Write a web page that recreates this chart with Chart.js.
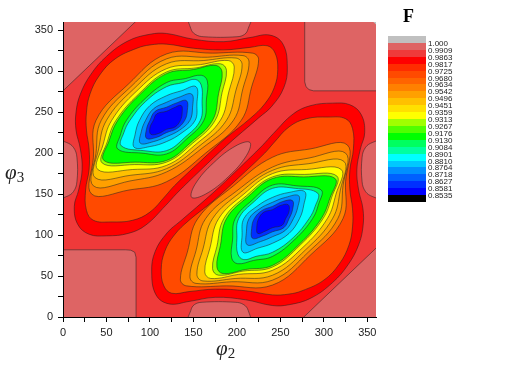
<!DOCTYPE html>
<html lang="en">
<head>
<meta charset="UTF-8">
<title>F(φ2, φ3) contour map</title>
<script src="https://cdn.jsdelivr.net/npm/chart.js@4.4.0/dist/chart.umd.min.js"></script>
<style>
  body { margin: 0; background: #fff; }
  #wrap { position: relative; width: 507px; height: 368px; overflow: hidden; }
  #plot { position: absolute; left: 0; top: 0; }
  .axtitle { position: absolute; font-family: "Liberation Serif", "DejaVu Serif", serif; color: #222; white-space: nowrap; }
  .axtitle i { font-size: 21px; }
  .axtitle sub { font-size: 15px; vertical-align: -3px; }
  .swatch { position: absolute; left: 388px; width: 38px; }
  .cbl { position: absolute; left: 428px; font: 8px "Liberation Sans", Arial, sans-serif; line-height: 10px; color: #222; }
  #ftitle { position: absolute; left: 403px; top: 6px; font: bold 18px "Liberation Serif", serif; color: #000; }
</style>
</head>
<body>
<div id="wrap">
  <canvas id="plot" width="507" height="368"></canvas>
  <div class="axtitle" style="left:216px; top:336px;"><i>φ</i><sub>2</sub></div>
  <div class="axtitle" style="left:5px; top:160px;"><i>φ</i><sub>3</sub></div>
  <div id="ftitle">F</div>
</div>

<script>
// colour scale (top to bottom) and the level labels between swatches
const bandColors = ['#c0c0c0', '#de6464', '#ef3a3a', '#ff0000', '#ff2c00', '#ff4a00', '#ff6400', '#ff8000',
                    '#ffa000', '#ffc000', '#ffe000', '#ffff00', '#a0ff00', '#50ff00', '#00ff00', '#00ff60',
                    '#00ffa0', '#00ffff', '#00c8ff', '#0090ff', '#0060ff', '#0030ff', '#0000ff', '#000000'];
const bandLabels = ['1.000', '0.9909', '0.9863', '0.9817', '0.9725', '0.9680', '0.9634', '0.9542', '0.9496',
                    '0.9451', '0.9359', '0.9313', '0.9267', '0.9176', '0.9130', '0.9084', '0.8901', '0.8810',
                    '0.8764', '0.8718', '0.8627', '0.8581', '0.8535'];

// high-F patches (band 1), outlines in (phi2, phi3) degrees
const tlCorner = [[-5,270],[0,276],[83,360],[88,365],[-5,365]];
const brCorner = [[365,90],[360,84],[277,0],[272,-5],[365,-5]];
const blSquare = [[-5,-5],[84,-5],[84,73],[82.5,79],[78,81.5],[72,82],[-5,82]];
const trSquare = [[365,365],[278,365],[278,287],[279.5,281],[283,277.5],[288,276],[365,276]];
const topBump = [[146,365],[147,352],[152,345],[162,342],[200,342],[209,345],[213,352],[215,365]];
const bottomBump = [[214,-5],[213,8],[208,15],[198,18],[160,18],[151,15],[147,8],[145,-5]];
const leftBump = [[-5,146],[4,147],[12,153],[16,165],[16,195],[12,207],[4,213],[-5,214]];
const rightBump = [[365,214],[356,213],[348,207],[344,195],[344,165],[348,153],[356,147],[365,146]];
const midIsland = [[215,213],[199,209],[173,188],[152,162],[148,146],[164,150],[190,171],[211,197]];
const peakCorner = [[352,365],[365,365],[365,352]];

// upper-left valley, outer to inner
const ulC1 = [[119,346],[150,339],[185,336],[215,341],[238,344],[253,333],[258,305],[254,280],[240,257],[225,243],[188,209],[158,179],[131,151],[118,136],[95,112],[75,102],[50,99],[30,101],[17,113],[13,135],[18,155],[22,180],[20,205],[15,228],[15,250],[20,272],[32,296],[50,318],[75,337],[100,345]];
const ulC2 = [[119,333],[150,328],[185,326],[215,329],[235,331],[244,322],[247,302],[243,280],[232,260],[215,242],[188,219],[158,190],[128,160],[118,148],[100,128],[80,118],[55,116],[35,118],[27,130],[26,155],[30,180],[30,205],[27,228],[27,250],[31,272],[42,295],[60,315],[85,328],[100,332]];
const ulC3 = [[119,321],[172,322],[218,322],[225,314],[217,281],[205,240],[164,200],[119,165],[76,155],[33,150],[35,195],[38,240],[75,284]];
const ulC4 = [[119,315],[166,317],[207,319],[214,311],[207,279],[196,240],[160,206],[119,177],[77,166],[35,160],[38,200],[44,240],[78,281]];
const ulC5 = [[119,309],[162,313],[199,316],[206,308],[199,277],[188,240],[156,208],[119,181],[78,173],[37,170],[41,205],[50,240],[81,278]];
const ulC6 = [[119,303],[158,308],[190,313],[197,305],[191,276],[181,240],[152,210],[119,185],[80,180],[40,180],[46,210],[56,240],[84,275]];
const ulC7 = [[119,299],[153,304],[181,309],[188,301],[183,274],[175,240],[149,212],[119,189],[82,186],[45,188],[51,214],[61,240],[87,272]];
const ulC8 = [[119,297],[150,302],[176,307],[183,299],[179,273],[172,240],[147,213],[119,191],[83,189],[47,191],[53,215],[63,240],[88,271]];
const ulC9 = [[119,286],[141,291],[159,295],[166,288],[165,266],[162,240],[142,217],[119,199],[91,200],[63,205],[66,222],[73,240],[93,265]];
const ulC10 = [[119,281],[138,286],[152,290],[159,283],[160,264],[158,240],[140,219],[119,203],[93,203],[67,209],[70,225],[77,240],[95,263]];
const ulC11 = [[119,270],[136,276],[153,281],[154,260],[152,240],[137,225],[119,214],[100,208],[82,207],[83,223],[88,240],[100,258]];
const ulC12 = [[119,262],[133,268],[148,272],[149,256],[146,240],[134,228],[119,220],[104,214],[89,212],[90,226],[95,240],[104,254]];
const ulC13 = [[119,256],[130,261],[142,264],[143,252],[140,240],[131,230],[119,225],[107,219],[96,218],[96,229],[100,240],[106,251]];
const ulC14 = [[119,251],[127,255],[136,258],[137,249],[135,240],[129,232],[119,229],[110,224],[101,223],[100,231],[104,240],[108,248]];

// lower-right valley, outer to inner
const lrC1 = [[241,14],[210,21],[175,24],[145,19],[122,16],[107,27],[102,55],[106,80],[120,103],[135,117],[172,151],[202,181],[229,209],[242,224],[265,248],[285,258],[310,261],[330,259],[343,247],[347,225],[342,205],[338,180],[340,155],[345,132],[345,110],[340,88],[328,64],[310,42],[285,23],[260,15]];
const lrC2 = [[241,27],[210,32],[175,34],[145,31],[125,29],[116,38],[113,58],[117,80],[128,100],[145,118],[172,141],[202,170],[232,200],[242,212],[260,232],[280,242],[305,244],[325,242],[333,230],[334,205],[330,180],[330,155],[333,132],[333,110],[329,88],[318,65],[300,45],[275,32],[260,28]];
const lrC3 = [[241,39],[188,38],[142,38],[135,46],[143,79],[155,120],[196,160],[241,195],[284,205],[327,210],[325,165],[322,120],[285,76]];
const lrC4 = [[241,45],[194,43],[153,41],[146,49],[153,81],[164,120],[200,154],[241,183],[283,194],[325,200],[322,160],[316,120],[282,79]];
const lrC5 = [[241,51],[198,47],[161,44],[154,52],[161,83],[172,120],[204,152],[241,179],[282,187],[323,190],[319,155],[310,120],[279,82]];
const lrC6 = [[241,57],[202,52],[170,47],[163,55],[169,84],[179,120],[208,150],[241,175],[280,180],[320,180],[314,150],[304,120],[276,85]];
const lrC7 = [[241,61],[207,56],[179,51],[172,59],[177,86],[185,120],[211,148],[241,171],[278,174],[315,172],[309,146],[299,120],[273,88]];
const lrC8 = [[241,63],[210,58],[184,53],[177,61],[181,87],[188,120],[213,147],[241,169],[277,171],[313,169],[307,145],[297,120],[272,89]];
const lrC9 = [[241,74],[219,69],[201,65],[194,72],[195,94],[198,120],[218,143],[241,161],[269,160],[297,155],[294,138],[287,120],[267,95]];
const lrC10 = [[241,79],[222,74],[208,70],[201,77],[200,96],[202,120],[220,141],[241,157],[267,157],[293,151],[290,135],[283,120],[265,97]];
const lrC11 = [[241,90],[224,84],[207,79],[206,100],[208,120],[223,135],[241,146],[260,152],[278,153],[277,137],[272,120],[260,102]];
const lrC12 = [[241,98],[227,92],[212,88],[211,104],[214,120],[226,132],[241,140],[256,146],[271,148],[270,134],[265,120],[256,106]];
const lrC13 = [[241,104],[230,99],[218,96],[217,108],[220,120],[229,130],[241,135],[253,141],[264,142],[264,131],[260,120],[254,109]];
const lrC14 = [[241,109],[233,105],[224,102],[223,111],[225,120],[231,128],[241,131],[250,136],[259,137],[260,129],[256,120],[252,112]];

// which colour band sits inside each valley contour
const valleyBands = [3, 5, 7, 8, 9, 11, 12, 14, 15, 17, 18, 19, 21, 22];

const straightPatches = [tlCorner, brCorner, blSquare, trSquare];
const roundPatches = [topBump, bottomBump, leftBump, rightBump, midIsland];
const ulValley = [ulC1, ulC2, ulC3, ulC4, ulC5, ulC6, ulC7, ulC8, ulC9, ulC10, ulC11, ulC12, ulC13, ulC14];
const lrValley = [lrC1, lrC2, lrC3, lrC4, lrC5, lrC6, lrC7, lrC8, lrC9, lrC10, lrC11, lrC12, lrC13, lrC14];

// build datasets, back to front
const shapes = [];
straightPatches.forEach(p => shapes.push({ pts: p, band: 1, tension: 0 }));
roundPatches.forEach(p => shapes.push({ pts: p, band: 1, tension: 0.4 }));
ulValley.forEach((p, i) => shapes.push({ pts: p, band: valleyBands[i], tension: 0.4 }));
lrValley.forEach((p, i) => shapes.push({ pts: p, band: valleyBands[i], tension: 0.4 }));
shapes.push({ pts: peakCorner, band: 0, tension: 0 });

const datasets = shapes.map((s, i) => ({
    data: s.pts,
    showLine: true,
    fill: 'shape',
    backgroundColor: bandColors[s.band],
    borderColor: 'rgba(35,35,35,0.75)',
    borderWidth: 0.7,
    tension: s.tension,
    pointRadius: 0,
    pointHoverRadius: 0,
    order: shapes.length - i
}));

// closed outlines: let the line element wrap around like a radar line
const closeShapes = {
    id: 'closeShapes',
    afterDatasetsUpdate(chart) {
        chart.data.datasets.forEach((ds, i) => {
            const line = chart.getDatasetMeta(i).dataset;
            if (!line) return;
            line._loop = true;
            line._fullLoop = true;
            line._segments = undefined;
            line._path = undefined;
            line._pointsUpdated = false;
        });
    }
};

// field background level
const fieldBg = {
    id: 'fieldBg',
    beforeDatasetsDraw(chart) {
        const { ctx, chartArea: a } = chart;
        ctx.save();
        ctx.fillStyle = bandColors[2];
        ctx.fillRect(a.left, a.top, a.width, a.height);
        ctx.restore();
    }
};

const tickFont = { family: 'Liberation Sans, Arial, sans-serif', size: 11 };

new Chart(document.getElementById('plot'), {
    type: 'scatter',
    data: { datasets },
    options: {
        responsive: false,
        animation: false,
        events: [],
        layout: { padding: { left: 0, top: 22, right: 131, bottom: 0 } },
        plugins: { legend: { display: false }, tooltip: { enabled: false } },
        scales: {
            x: {
                type: 'linear', min: 0, max: 360,
                afterFit: s => { s.height = 51; },
                ticks: { stepSize: 25, includeBounds: false, autoSkip: false, maxRotation: 0, padding: 4,
                         color: '#222', font: tickFont,
                         callback: v => (v % 50 === 0 ? v : '') },
                grid: { drawOnChartArea: false, drawTicks: true, tickLength: 5, color: '#000' },
                border: { display: true, color: '#000', width: 1, z: 1 }
            },
            y: {
                type: 'linear', min: 0, max: 360,
                afterFit: s => { s.width = 63; },
                ticks: { stepSize: 25, includeBounds: false, autoSkip: false, padding: 5,
                         color: '#222', font: tickFont,
                         callback: v => (v % 50 === 0 ? v : '') },
                grid: { drawOnChartArea: false, drawTicks: true, tickLength: 5, color: '#000' },
                border: { display: true, color: '#000', width: 1, z: 1 }
            }
        }
    },
    plugins: [closeShapes, fieldBg]
});

// colour bar legend
const wrap = document.getElementById('wrap');
const barTop = 36, swatchH = 6.92;
bandColors.forEach((c, i) => {
    const d = document.createElement('div');
    d.className = 'swatch';
    d.style.top = (barTop + swatchH * i) + 'px';
    d.style.height = (swatchH + 0.3) + 'px';
    d.style.background = c;
    wrap.appendChild(d);
});
bandLabels.forEach((t, i) => {
    const s = document.createElement('span');
    s.className = 'cbl';
    s.textContent = t;
    s.style.top = (barTop + swatchH * (i + 1) - 4) + 'px';
    wrap.appendChild(s);
});
</script>
</body>
</html>
